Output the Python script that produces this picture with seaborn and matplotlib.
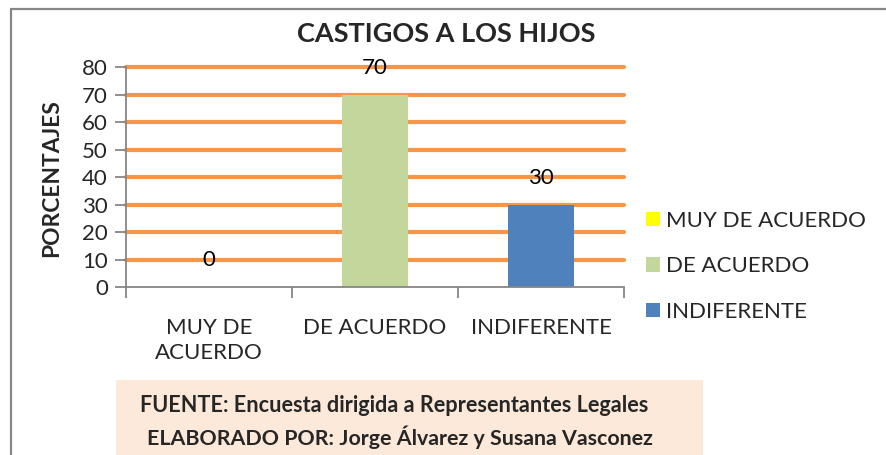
import matplotlib
matplotlib.use("Agg")
import matplotlib.pyplot as plt
from matplotlib.patches import Patch, Rectangle
from matplotlib.lines import Line2D
import seaborn as sns
import pandas as pd

categories = ["MUY DE ACUERDO", "DE ACUERDO", "INDIFERENTE"]
tick_labels = ["MUY DE\nACUERDO", "DE ACUERDO", "INDIFERENTE"]
values = [0, 70, 30]
colors = ["#FFFF00", "#C3D69B", "#4F81BD"]
yticks = [0, 10, 20, 30, 40, 50, 60, 70, 80]
title = "CASTIGOS A LOS HIJOS"
ylabel = "PORCENTAJES"
footer1 = "FUENTE: Encuesta dirigida a Representantes Legales"
footer2 = "ELABORADO POR: Jorge Álvarez y Susana Vasconez"

sns.set_theme(style="white")
plt.rcParams["font.family"] = ["Lato", "DejaVu Sans"]

W, H = 886, 455
fig = plt.figure(figsize=(W / 100, H / 100), dpi=100)

def fx(px):
    return px / W

def fy(py):
    return 1 - py / H

# outer frame (top and left visible)
fig.add_artist(Line2D([fx(11), 1.0], [fy(9), fy(9)], color="#878787", lw=1.6))
fig.add_artist(Line2D([fx(11), fx(11)], [fy(9), 0.0], color="#878787", lw=1.6))

ax = fig.add_axes([fx(126), fy(287), fx(624) - fx(126), (287 - 67.5) / H])

df = pd.DataFrame({"cat": categories, "val": values})
sns.barplot(data=df, x="cat", y="val", hue="cat", palette=colors, width=0.4,
            legend=False, ax=ax, zorder=3, saturation=1, linewidth=0, edgecolor="none")

ax.set_ylim(0, 80)
ax.set_xlim(-0.5, 2.5)
ax.set_yticks(yticks)
ax.set_yticklabels([str(t) for t in yticks], fontsize=16)
ax.set_xticks([0, 1, 2])
ax.set_xticklabels(tick_labels, fontsize=16, linespacing=1.35)
ax.set_xticks([-0.5, 0.5, 1.5, 2.5], minor=True)
ax.tick_params(axis="x", which="major", length=0, pad=22)
ax.tick_params(axis="x", which="minor", length=8, width=1.3, color="#868686", direction="out", bottom=True)
ax.tick_params(axis="y", length=8, width=1.3, color="#868686", direction="out", left=True, pad=5)
ax.set_xlabel("")
ax.set_ylabel("")

fig.text(fx(52), fy(178), ylabel, rotation=90, ha="center", va="center",
         fontsize=16.4, fontweight="bold")

ax.yaxis.grid(True, color="#F79646", lw=3.0, zorder=0)
ax.set_axisbelow(True)
for gl, t in zip(ax.yaxis.get_gridlines(), yticks):
    gl.set_clip_on(False)
    if t == 0:
        gl.set_visible(False)

for s in ["top", "right"]:
    ax.spines[s].set_visible(False)
for s in ["left", "bottom"]:
    ax.spines[s].set_color("#868686")
    ax.spines[s].set_linewidth(1.3)
    ax.spines[s].set_zorder(4)

for i, v in enumerate(values):
    ax.annotate(str(v), xy=(i, v), xytext=(0, 19.5), textcoords="offset points",
                ha="center", va="center", fontsize=16, color="black", zorder=5)

fig.text(fx(446), fy(34), title, ha="center", va="center", fontsize=19.5, fontweight="bold")

handles = [Patch(facecolor=c, edgecolor="none", label=l) for c, l in zip(colors, categories)]
fig.legend(handles=handles, loc="upper left", bbox_to_anchor=(fx(637), fy(202)),
           frameon=False, fontsize=16, handlelength=0.62, handleheight=0.62,
           handletextpad=0.3, labelspacing=1.15, borderaxespad=0)

fig.add_artist(Rectangle((fx(116), 0), fx(703) - fx(116), fy(380), transform=fig.transFigure,
                         facecolor="#FDE9D9", edgecolor="none", zorder=0))
fig.text(fx(394), fy(406), footer1, ha="center", va="center", fontsize=15.6, fontweight="bold")
fig.text(fx(400), fy(437), footer2, ha="center", va="center", fontsize=15.4, fontweight="bold")

fig.savefig("out.png", dpi=100)
